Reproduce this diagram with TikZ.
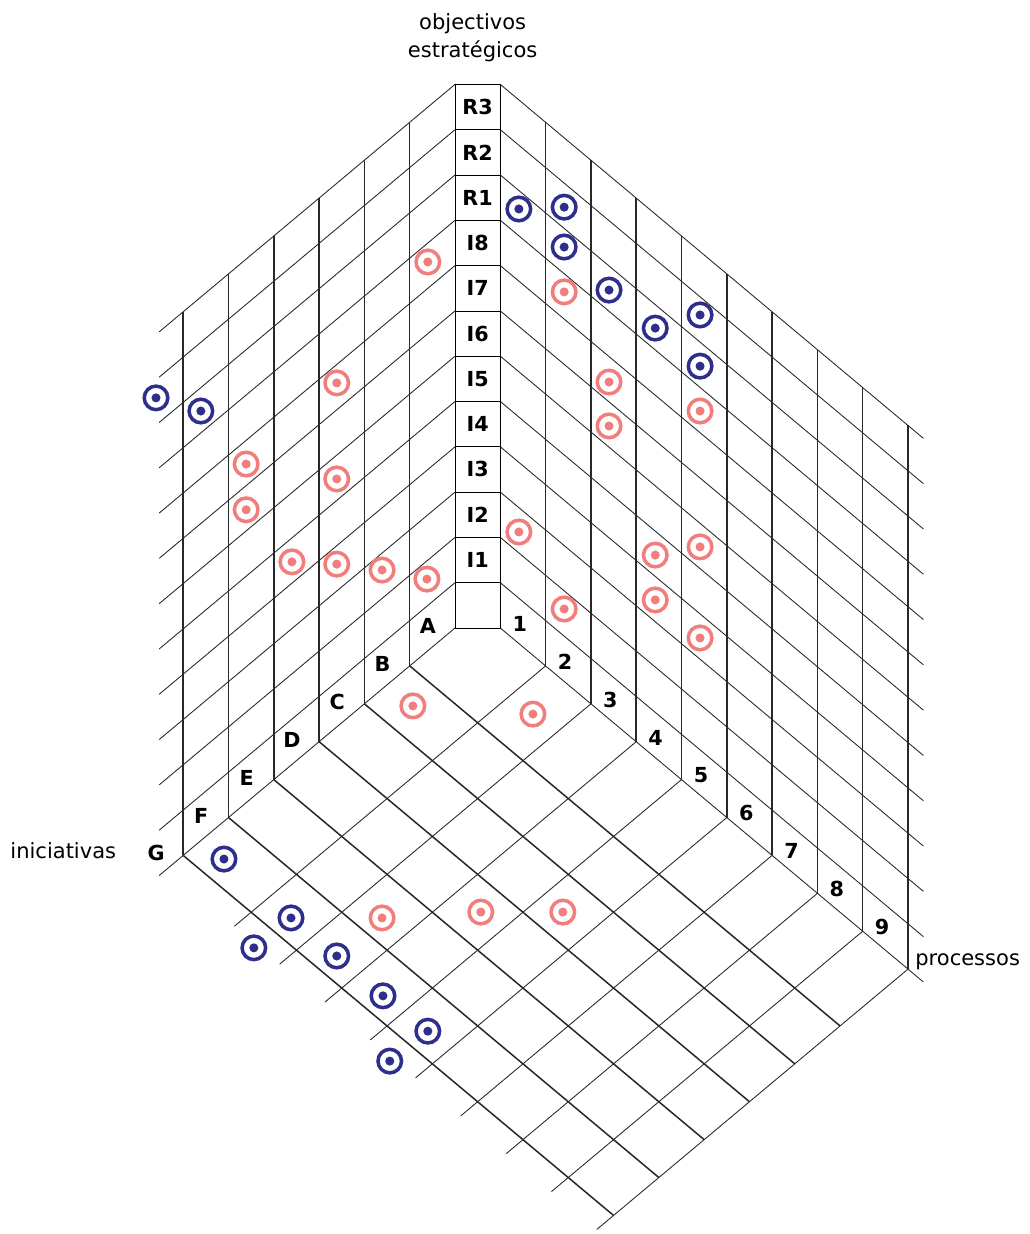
\documentclass[tikz,border=0pt]{standalone}
\usepackage{fontspec}
\setmainfont{DejaVu Sans}
\usepackage{xcolor}
\usetikzlibrary{calc}
\definecolor{hitblue}{RGB}{46, 46, 140}
\definecolor{hitpink}{RGB}{242, 125, 125}
\definecolor{gridline}{RGB}{40, 40, 40}

% slope of the two floor directions
\def\slp{0.8366}

\begin{document}
\begin{tikzpicture}[
    cell/.style={rectangle, draw, minimum width=1cm, minimum height=1cm, inner sep=0pt,
                 font=\fontsize{13}{15}\selectfont\bfseries},
    tick/.style={inner sep=0pt, font=\fontsize{13}{15}\selectfont\bfseries},
    axis/.style={inner sep=0pt, font=\fontsize{13.2}{17.6}\selectfont},
    thin line/.style={gridline, line width=0.55pt},
    thick line/.style={gridline, line width=0.95pt},
    hit/.style={circle, draw=#1, fill=white, line width=2.2pt, minimum size=0.52cm, inner sep=0pt,
                path picture={\fill[#1] (path picture bounding box.center) circle (0.1cm);}}]

    \useasboundingbox (-10.044,-13.377) rectangle (12.671,13.863);

    % left wall (iniciativas)
    \foreach \j in {0,...,12}
        \draw[thin line] (0,\j) -- ++(-6.53, {-6.53*\slp});
    \foreach \k in {1,...,6}
        \draw[thick line] (-\k, {-\k*\slp}) -- ++(0,12);

    % right wall (processos)
    \foreach \j in {0,...,12}
        \draw[thin line] (1,\j) -- ++(9.34, {-9.34*\slp});
    \foreach \k in {1,...,9}
        \draw[thick line] ({1+\k}, {-\k*\slp}) -- ++(0,12);

    % floor
    \foreach \k in {1,...,6}
        \draw[thick line] (-\k, {-\k*\slp}) -- ++(9.5, {-9.5*\slp});
    \foreach \k in {1,...,9}
        \draw[thin line] ({1+\k}, {-\k*\slp}) -- ++(-6.87, {-6.87*\slp});

    % objectivos column
    \foreach \t [count=\i from 0] in {{}, I1, I2, I3, I4, I5, I6, I7, I8, R1, R2, R3}
        \node[cell, fill=white] (box\i) at (0.5, \i+0.5) {\t};

    \foreach \t [count=\k] in {A, B, C, D, E, F, G}
        \node[tick] (ini\t) at ({-\k+0.4}, {-\k*\slp+0.88}) {\t};
    \foreach \k in {1,...,9}
        \node[tick] (proc\k) at ({1+\k-0.57}, {-\k*\slp+0.93}) {\k};

    \node[axis, align=center] (objectivos) at (0.39, 13.035) {objectivos\\estratégicos};
    \node[axis, anchor=base west] (iniciativas) at (-9.82, -5.077) {iniciativas};
    \node[axis, anchor=base west] (processos) at (10.155, -7.439) {processos};

    % marks
    \foreach \x/\y [count=\i] in {1.41/9.25, 2.41/9.29, 2.41/8.41, 3.40/7.46, 4.42/6.62,
            5.41/6.91, 5.41/5.78, -6.60/5.08, -5.61/4.79, -5.10/-5.10, -3.62/-6.40,
            -4.44/-7.06, -2.61/-7.24, -1.59/-8.12, -0.60/-8.90, -1.44/-9.56}
        \node[hit=hitblue] (blue\i) at (\x,\y) {};
    \foreach \x/\y [count=\i] in {-0.60/8.08, -2.61/5.41, -4.61/3.62, -2.61/3.29, -4.61/2.61,
            -3.60/1.46, -2.61/1.41, -1.61/1.28, -0.62/1.08, 2.41/7.42, 3.40/5.43, 3.40/4.46,
            5.41/4.79, 1.41/2.12, 4.42/1.61, 5.41/1.79, 2.41/0.42, 4.42/0.62, 5.41/-0.22,
            -0.93/-1.72, 1.72/-1.90, -1.61/-6.40, 0.57/-6.27, 2.38/-6.27}
        \node[hit=hitpink] (pink\i) at (\x,\y) {};
\end{tikzpicture}
\end{document}
